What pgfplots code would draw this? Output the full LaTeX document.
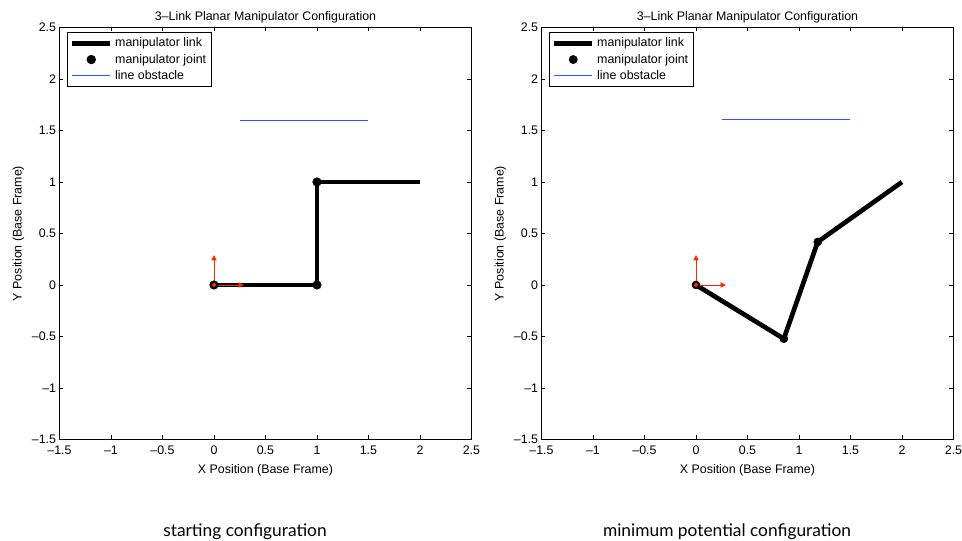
\documentclass[border=0pt]{standalone}
\usepackage{pgfplots}
\pgfplotsset{compat=1.18}
\usepackage{fontspec}
\setmainfont{Liberation Sans}
\newfontfamily\capfont{Lato}
\usetikzlibrary{arrows.meta}

\definecolor{framered}{RGB}{255,40,0}
\definecolor{obstblue}{RGB}{45,85,255}

\pgfplotsset{
  manip/.style={
    scale only axis,
    width=309pt, height=309pt,
    xmin=-1.5, xmax=2.5, ymin=-1.5, ymax=2.5,
    xtick={-1.5,-1,-0.5,0,0.5,1,1.5,2,2.5},
    ytick={-1.5,-1,-0.5,0,0.5,1,1.5,2,2.5},
    xticklabels={–1.5,–1,–0.5,0,0.5,1,1.5,2,2.5},
    yticklabels={–1.5,–1,–0.5,0,0.5,1,1.5,2,2.5},
    tick align=inside,
    major tick length=3pt,
    axis line style={line width=0.8pt},
    every tick/.style={black, line width=0.6pt},
    tick label style={font=\fontsize{9.3}{10}\selectfont},
    xticklabel style={yshift=-1.5pt},
    yticklabel style={xshift=1pt},
    label style={font=\fontsize{9.3}{10}\selectfont},
    title style={font=\fontsize{9.3}{10}\selectfont, yshift=-6pt},
    title={3–Link Planar Manipulator Configuration},
    xlabel={X Position (Base Frame)},
    ylabel={Y Position (Base Frame)},
    xlabel style={yshift=0pt},
    ylabel style={yshift=-1pt},
    legend cell align=left,
    legend style={at={(0.018,0.989)}, anchor=north west,
      font=\fontsize{9.3}{10}\selectfont, draw=black, line width=0.6pt,
      inner sep=2pt, row sep=0pt},
    legend image code/.code={
      \draw[##1] (0cm,0cm) -- (1.0cm,0cm);},
  },
  jointleg/.style={legend image code/.code={
      \draw[##1] plot coordinates {(0.5cm,0cm)};}},
  arrowred/.style={framered, line width=0.7pt, -{Triangle[length=4pt,width=4pt]}, forget plot},
}

\begin{document}
\begin{tikzpicture}
\useasboundingbox (0,0) rectangle (721.5pt,405pt);

\begin{axis}[manip, at={(44.6pt,75.4pt)}, anchor=south west]
\addplot[black, line width=3.5pt] coordinates {(0,0) (1,0) (1,1) (2,1)};
\addlegendentry{manipulator link}
\addplot[only marks, mark=*, mark size=3.2pt, black, jointleg]
  coordinates {(0,0) (1,0) (1,1)};
\addlegendentry{manipulator joint}
\addplot[obstblue, line width=0.6pt] coordinates {(0.25,1.6) (1.5,1.6)};
\addlegendentry{line obstacle}
\addplot[arrowred] coordinates {(0,0) (0.29,0)};
\addplot[arrowred] coordinates {(0,0) (0,0.29)};
\addplot[only marks, mark=*, mark size=1.4pt, framered, forget plot] coordinates {(0,0)};
\end{axis}

\begin{axis}[manip, at={(406.1pt,75.4pt)}, anchor=south west]
\addplot[black, line width=3.5pt] coordinates {(0,0) (0.853,-0.522) (1.182,0.418) (2,1)};
\addlegendentry{manipulator link}
\addplot[only marks, mark=*, mark size=3pt, black, jointleg]
  coordinates {(0,0) (0.853,-0.522) (1.182,0.418)};
\addlegendentry{manipulator joint}
\addplot[obstblue, line width=0.6pt] coordinates {(0.25,1.61) (1.5,1.61)};
\addlegendentry{line obstacle}
\addplot[arrowred] coordinates {(0,0) (0.29,0)};
\addplot[arrowred] coordinates {(0,0) (0,0.29)};
\addplot[only marks, mark=*, mark size=1.4pt, framered, forget plot] coordinates {(0,0)};
\end{axis}

\node[font=\capfont\fontsize{13}{15}\selectfont] at (183.75pt,6pt) {starting configuration};
\node[font=\capfont\fontsize{13}{15}\selectfont] at (545.25pt,6pt) {minimum potential configuration};
\end{tikzpicture}
\end{document}
